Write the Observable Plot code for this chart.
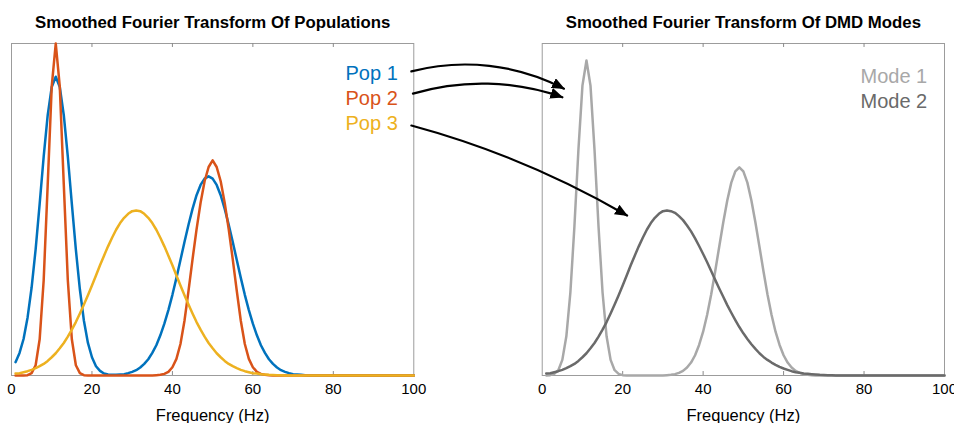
<!DOCTYPE html>
<html><head><meta charset="utf-8">
<script src="https://cdn.jsdelivr.net/npm/d3@7"></script>
<script src="https://cdn.jsdelivr.net/npm/@observablehq/plot@0.6"></script>
<style>
html,body{margin:0;padding:0;background:#fff;}
#chart{position:relative;width:954px;height:423px;overflow:hidden;}
</style></head><body><div id="chart"></div>
<script>
// ---- data ----
const panels = ["Smoothed Fourier Transform Of Populations", "Smoothed Fourier Transform Of DMD Modes"];
const seriesNames = ["Pop 1", "Pop 2", "Pop 3", "Mode 1", "Mode 2"];
const seriesColors = ["#0072BD", "#D95319", "#EDB120", "#a8a8a8", "#6a6a6a"];
const seriesPanel = [0, 0, 0, 1, 1];
const xTicks = [0, 20, 40, 60, 80, 100];
const innerTicks = [20, 40, 60, 80];
const xLabel = "Frequency (Hz)";

const freq = [1,2,3,4,5,6,7,8,9,10,11,12,13,14,15,16,17,18,19,20,21,22,23,24,25,26,27,28,29,30,31,32,33,34,35,36,37,38,39,40,41,42,43,44,45,46,47,48,49,50,51,52,53,54,55,56,57,58,59,60,61,62,63,64,65,66,67,68,69,70,71,72,73,74,75,100];
const pop1 = [0.04,0.068,0.11,0.175,0.265,0.38,0.517,0.659,0.784,0.869,0.9,0.869,0.784,0.659,0.517,0.379,0.259,0.165,0.098,0.055,0.028,0.014,0.006,0.003,0.002,0.002,0.003,0.004,0.007,0.011,0.016,0.024,0.035,0.049,0.068,0.091,0.121,0.156,0.197,0.243,0.294,0.348,0.402,0.454,0.502,0.543,0.574,0.593,0.6,0.593,0.574,0.543,0.502,0.454,0.402,0.348,0.294,0.243,0.197,0.156,0.121,0.091,0.068,0.049,0.035,0.024,0.016,0.011,0.007,0.004,0.003,0.002,0.001,0,0,0];
const pop2 = [0,0,0,0.001,0.007,0.031,0.109,0.287,0.575,0.871,1,0.871,0.575,0.287,0.109,0.031,0.007,0.001,0,0,0,0,0,0,0,0,0,0,0,0,0,0,0,0,0,0.001,0.002,0.005,0.011,0.025,0.05,0.095,0.165,0.255,0.35,0.44,0.52,0.585,0.628,0.648,0.628,0.585,0.52,0.44,0.35,0.255,0.165,0.095,0.05,0.025,0.011,0.005,0.002,0.001,0,0,0,0,0,0,0,0,0,0,0,0];
const pop3 = [0.006,0.007,0.01,0.013,0.017,0.022,0.028,0.035,0.044,0.055,0.067,0.082,0.098,0.117,0.138,0.161,0.187,0.214,0.242,0.271,0.301,0.332,0.361,0.389,0.415,0.439,0.459,0.475,0.487,0.495,0.497,0.495,0.487,0.475,0.459,0.439,0.415,0.389,0.361,0.332,0.301,0.271,0.242,0.214,0.187,0.161,0.138,0.117,0.098,0.082,0.067,0.055,0.044,0.035,0.028,0.022,0.017,0.013,0.01,0.007,0.006,0.004,0.003,0.002,0.0015,0.001,0.001,0,0,0,0,0,0,0,0,0];
const mode1 = [0,0.001,0.005,0.016,0.047,0.118,0.25,0.448,0.68,0.873,0.949,0.873,0.68,0.448,0.25,0.118,0.047,0.016,0.005,0.001,0,0,0,0,0,0,0,0,0,0,0.001,0.002,0.004,0.008,0.014,0.024,0.039,0.061,0.092,0.132,0.183,0.244,0.314,0.388,0.461,0.527,0.581,0.615,0.627,0.615,0.581,0.527,0.461,0.388,0.314,0.244,0.183,0.132,0.092,0.061,0.039,0.024,0.014,0.008,0.004,0.002,0.001,0,0,0,0,0,0,0,0,0];
const mode2 = [0.006,0.007,0.01,0.013,0.017,0.022,0.028,0.035,0.044,0.055,0.067,0.082,0.098,0.117,0.138,0.161,0.187,0.214,0.242,0.271,0.301,0.332,0.361,0.389,0.415,0.439,0.459,0.475,0.487,0.495,0.497,0.495,0.49,0.48,0.468,0.452,0.434,0.413,0.39,0.366,0.341,0.315,0.288,0.262,0.237,0.212,0.189,0.167,0.146,0.127,0.11,0.094,0.08,0.067,0.056,0.047,0.039,0.032,0.026,0.021,0.017,0.013,0.01,0.008,0.006,0.005,0.004,0.003,0.002,0.0015,0.001,0.001,0,0,0,0];

// arrow annotations: start in left panel (frequency, amplitude), end in right panel
const arrowStartF = [99.4, 99.8, 99.4];
const arrowStartV = [0.916, 0.849, 0.753];
const arrowEndF = [5.4, 5.0, 21.1];
const arrowEndV = [0.864, 0.838, 0.482];
const arrowBend = [21, 18, 7.5];

// ---- layout ----
const W = 954, H = 423;
const mL = 11, mR = 10, mT = 43, mB = 48;
const padInner = 0.242;
const step = (W - mL - mR) / (2 - padInner);
const bandwidth = step * (1 - padInner);
const panelOffset = 100 * step / bandwidth; // right panel offset in x-data units

const seriesArrays = [pop1, pop2, pop3, mode1, mode2];
const rows = [];
seriesArrays.forEach((arr, i) => {
  arr.forEach((v, j) => rows.push({panel: panels[seriesPanel[i]], series: seriesNames[i], f: freq[j], v}));
});

const legendPos = {
  "Pop 1": {dx: -16, dy: 29.6}, "Pop 2": {dx: -16, dy: 55}, "Pop 3": {dx: -16, dy: 80.5},
  "Mode 1": {dx: -17.3, dy: 33.3}, "Mode 2": {dx: -17.3, dy: 58}
};
const legendMarks = seriesNames.map((name, i) => Plot.text([name], {
  fx: () => panels[seriesPanel[i]], text: d => d, fill: d => d,
  frameAnchor: "top-right", textAnchor: "end", lineAnchor: "middle",
  dx: legendPos[name].dx, dy: legendPos[name].dy, fontSize: 20
}));

const arrowMarks = arrowBend.map((b, i) => Plot.arrow([i], {
  fx: () => panels[0],
  x1: () => arrowStartF[i], y1: () => arrowStartV[i],
  x2: () => arrowEndF[i] + panelOffset, y2: () => arrowEndV[i],
  bend: b, stroke: "black", strokeWidth: 2.2, headLength: 0
}));

const plot = Plot.plot({
  width: W, height: H,
  marginLeft: mL, marginRight: mR, marginTop: mT, marginBottom: mB,
  style: {fontFamily: "'Liberation Sans', Arial, Helvetica, sans-serif", background: "white", color: "black"},
  fx: {domain: panels, paddingInner: padInner, paddingOuter: 0, round: false, axis: null, label: null},
  x: {domain: [0, 100], axis: null},
  y: {domain: [0, 1], axis: null},
  color: {domain: seriesNames, range: seriesColors},
  marks: [
    Plot.frame({stroke: "#9c9c9c", strokeWidth: 1}),
    Plot.ruleX(innerTicks, {x: d => d, y1: 0, y2: 0.012, stroke: "#8a8a8a"}),
    Plot.ruleX(innerTicks, {x: d => d, y1: 1, y2: 0.988, stroke: "#8a8a8a"}),
    Plot.line(rows, {fx: "panel", x: "f", y: "v", z: "series", stroke: "series", strokeWidth: 2.5}),
    Plot.axisX({ticks: xTicks, tickSize: 0, tickPadding: 8, fontSize: 15, label: null, tickFormat: d => String(d)}),
    Plot.text([xLabel], {text: d => d, frameAnchor: "bottom", lineAnchor: "middle", dy: 40.5, fontSize: 16.5}),
    Plot.text(panels, {fx: d => d, text: d => d, frameAnchor: "top", lineAnchor: "middle", dy: -21, fontWeight: "bold", fontSize: 16.8}),
    ...legendMarks,
    ...arrowMarks
  ]
});

document.getElementById("chart").appendChild(plot);

// filled arrow heads
const svg = d3.select(plot.tagName.toLowerCase() === "svg" ? plot : plot.querySelector("svg"));
svg.append("defs").append("marker")
  .attr("id", "ahead").attr("viewBox", "0 0 13 11").attr("refX", 12).attr("refY", 5.5)
  .attr("markerWidth", 13).attr("markerHeight", 11).attr("markerUnits", "userSpaceOnUse")
  .attr("orient", "auto")
  .append("path").attr("d", "M0,0L13,5.5L0,11Z").attr("fill", "black");
svg.selectAll('g[aria-label="arrow"] path').each(function() {
  const d = this.getAttribute("d") || "";
  const k = d.indexOf("M", 1);
  if (k > 0) this.setAttribute("d", d.slice(0, k));
  this.setAttribute("marker-end", "url(#ahead)");
});
</script></body></html>
